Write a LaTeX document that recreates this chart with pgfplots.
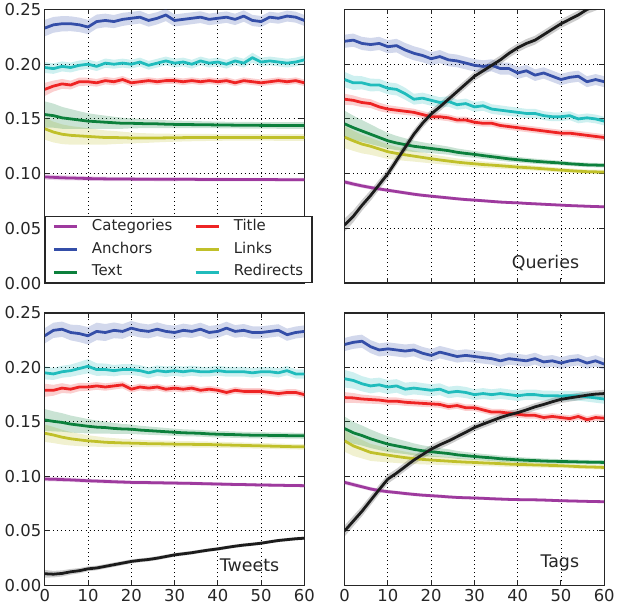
\documentclass[border=0pt]{standalone}
\usepackage{fontspec}
\setmainfont{DejaVu Sans}
\usepackage{pgfplots}
\usepackage{pgfplotstable}
\pgfplotsset{compat=1.18}
\usepgfplotslibrary{fillbetween}

\definecolor{catc}{RGB}{158,58,158}
\definecolor{ancc}{RGB}{52,78,168}
\definecolor{txtc}{RGB}{12,128,60}
\definecolor{titc}{RGB}{238,36,36}
\definecolor{lnkc}{RGB}{192,192,42}
\definecolor{redc}{RGB}{32,188,188}
\definecolor{blkc}{RGB}{28,28,28}

\newcommand\tickfont{\fontsize{16.5}{18}\selectfont}
\newcommand\legfont{\fontsize{15}{17}\selectfont}
\newcommand\annfont{\fontsize{17.5}{19}\selectfont}

% x = minutes, then mean and spread of every feature
\pgfplotstableread{
x  cat    catE   anc   ancE   txt    txtE   tit   titE   lnk    lnkE   red   redE
0  0.0970 0.0025 0.233 0.0075 0.1540 0.0120 0.177 0.0060 0.1410 0.0100 0.197 0.0050
2  0.0966 0.0024 0.236 0.0072 0.1530 0.0110 0.180 0.0050 0.1380 0.0095 0.196 0.0048
4  0.0962 0.0023 0.237 0.0070 0.1510 0.0100 0.182 0.0045 0.1360 0.0090 0.198 0.0046
6  0.0960 0.0022 0.237 0.0068 0.1500 0.0090 0.181 0.0040 0.1350 0.0085 0.197 0.0045
8  0.0958 0.0021 0.236 0.0066 0.1490 0.0080 0.184 0.0038 0.1345 0.0080 0.199 0.0044
10 0.0955 0.0020 0.234 0.0065 0.1480 0.0072 0.184 0.0036 0.1340 0.0075 0.200 0.0043
12 0.0953 0.0020 0.239 0.0064 0.1475 0.0065 0.183 0.0035 0.1335 0.0070 0.198 0.0042
14 0.0952 0.0020 0.240 0.0062 0.1470 0.0060 0.185 0.0034 0.1330 0.0065 0.201 0.0042
16 0.0951 0.0019 0.239 0.0060 0.1465 0.0055 0.184 0.0033 0.1330 0.0060 0.200 0.0041
18 0.0950 0.0019 0.241 0.0060 0.1460 0.0050 0.186 0.0032 0.1328 0.0055 0.201 0.0041
20 0.0950 0.0019 0.242 0.0058 0.1460 0.0046 0.183 0.0032 0.1326 0.0050 0.200 0.0040
22 0.0949 0.0018 0.243 0.0058 0.1458 0.0043 0.184 0.0031 0.1325 0.0046 0.202 0.0040
24 0.0949 0.0018 0.240 0.0057 0.1455 0.0040 0.185 0.0031 0.1325 0.0043 0.199 0.0040
26 0.0948 0.0018 0.242 0.0056 0.1455 0.0038 0.184 0.0030 0.1326 0.0040 0.201 0.0040
28 0.0948 0.0018 0.245 0.0056 0.1452 0.0036 0.185 0.0030 0.1327 0.0038 0.203 0.0040
30 0.0948 0.0018 0.240 0.0055 0.1450 0.0035 0.185 0.0030 0.1328 0.0036 0.201 0.0040
32 0.0948 0.0017 0.241 0.0055 0.1449 0.0034 0.184 0.0030 0.1329 0.0035 0.202 0.0040
34 0.0948 0.0017 0.242 0.0054 0.1448 0.0033 0.185 0.0030 0.1330 0.0034 0.200 0.0040
36 0.0947 0.0017 0.243 0.0054 0.1447 0.0032 0.184 0.0030 0.1330 0.0033 0.203 0.0040
38 0.0947 0.0017 0.241 0.0053 0.1446 0.0031 0.185 0.0030 0.1331 0.0032 0.201 0.0040
40 0.0947 0.0017 0.242 0.0053 0.1445 0.0030 0.184 0.0030 0.1331 0.0031 0.202 0.0040
42 0.0947 0.0017 0.243 0.0052 0.1444 0.0030 0.185 0.0030 0.1331 0.0030 0.200 0.0040
44 0.0946 0.0016 0.241 0.0052 0.1443 0.0030 0.183 0.0030 0.1331 0.0030 0.203 0.0040
46 0.0946 0.0016 0.244 0.0052 0.1442 0.0030 0.185 0.0030 0.1331 0.0030 0.201 0.0040
48 0.0946 0.0016 0.240 0.0051 0.1442 0.0030 0.184 0.0030 0.1331 0.0030 0.206 0.0045
50 0.0946 0.0016 0.239 0.0051 0.1441 0.0030 0.183 0.0030 0.1331 0.0030 0.202 0.0040
52 0.0946 0.0016 0.243 0.0050 0.1441 0.0030 0.184 0.0030 0.1331 0.0030 0.203 0.0040
54 0.0945 0.0016 0.242 0.0050 0.1440 0.0030 0.185 0.0030 0.1330 0.0030 0.202 0.0040
56 0.0945 0.0016 0.244 0.0050 0.1440 0.0030 0.184 0.0030 0.1330 0.0030 0.201 0.0040
58 0.0945 0.0016 0.243 0.0050 0.1440 0.0030 0.185 0.0030 0.1330 0.0030 0.202 0.0040
60 0.0945 0.0016 0.240 0.0050 0.1440 0.0030 0.183 0.0030 0.1330 0.0030 0.204 0.0040
}\base

\pgfplotstableread{
x  cat    catE   anc   ancE   txt    txtE   tit   titE   lnk    lnkE   red   redE   blk    blkE
0  0.0924 0.0020 0.221 0.0060 0.1455 0.0120 0.168 0.0050 0.1333 0.0100 0.186 0.0070 0.053  0.0060
2  0.0905 0.0019 0.222 0.0060 0.1420 0.0110 0.167 0.0045 0.1300 0.0092 0.183 0.0065 0.061  0.0055
4  0.0888 0.0018 0.219 0.0060 0.1390 0.0100 0.165 0.0042 0.1270 0.0085 0.183 0.0060 0.071  0.0050
6  0.0873 0.0018 0.218 0.0060 0.1360 0.0090 0.164 0.0040 0.1250 0.0078 0.181 0.0058 0.080  0.0048
8  0.0860 0.0017 0.219 0.0060 0.1330 0.0080 0.161 0.0038 0.1225 0.0072 0.181 0.0056 0.090  0.0046
10 0.0848 0.0017 0.216 0.0060 0.1300 0.0072 0.159 0.0036 0.1200 0.0066 0.178 0.0055 0.100  0.0045
12 0.0836 0.0016 0.217 0.0062 0.1280 0.0065 0.158 0.0035 0.1185 0.0060 0.177 0.0055 0.112  0.0044
14 0.0824 0.0016 0.213 0.0064 0.1265 0.0058 0.157 0.0034 0.1172 0.0055 0.173 0.0055 0.124  0.0043
16 0.0812 0.0016 0.210 0.0064 0.1250 0.0052 0.156 0.0033 0.1160 0.0050 0.168 0.0050 0.136  0.0042
18 0.0802 0.0015 0.208 0.0062 0.1240 0.0047 0.154 0.0032 0.1148 0.0046 0.169 0.0050 0.146  0.0041
20 0.0794 0.0015 0.205 0.0060 0.1230 0.0043 0.152 0.0032 0.1136 0.0042 0.167 0.0050 0.1545 0.0040
22 0.0786 0.0015 0.207 0.0060 0.1220 0.0040 0.152 0.0031 0.1125 0.0039 0.165 0.0048 0.161  0.0040
24 0.0778 0.0015 0.204 0.0058 0.1210 0.0037 0.151 0.0031 0.1115 0.0036 0.166 0.0048 0.168  0.0040
26 0.0770 0.0014 0.203 0.0058 0.1195 0.0035 0.149 0.0030 0.1105 0.0034 0.163 0.0046 0.175  0.0040
28 0.0763 0.0014 0.201 0.0057 0.1185 0.0033 0.149 0.0030 0.1097 0.0032 0.164 0.0046 0.182  0.0040
30 0.0758 0.0014 0.199 0.0056 0.1176 0.0031 0.147 0.0030 0.1090 0.0030 0.161 0.0045 0.189  0.0040
32 0.0752 0.0014 0.198 0.0056 0.1165 0.0030 0.146 0.0030 0.1083 0.0029 0.162 0.0045 0.194  0.0040
34 0.0746 0.0014 0.199 0.0055 0.1155 0.0029 0.146 0.0030 0.1078 0.0028 0.159 0.0044 0.199  0.0040
36 0.0740 0.0013 0.196 0.0055 0.1145 0.0028 0.144 0.0030 0.1072 0.0027 0.158 0.0044 0.204  0.0040
38 0.0736 0.0013 0.196 0.0054 0.1135 0.0027 0.143 0.0030 0.1066 0.0026 0.157 0.0043 0.210  0.0040
40 0.0733 0.0013 0.192 0.0054 0.1127 0.0026 0.142 0.0030 0.1060 0.0025 0.156 0.0043 0.215  0.0040
42 0.0728 0.0013 0.194 0.0053 0.1120 0.0025 0.141 0.0030 0.1055 0.0024 0.155 0.0042 0.219  0.0040
44 0.0724 0.0013 0.190 0.0053 0.1113 0.0024 0.140 0.0030 0.1050 0.0023 0.155 0.0042 0.222  0.0040
46 0.0720 0.0013 0.192 0.0052 0.1107 0.0023 0.139 0.0030 0.1044 0.0022 0.153 0.0041 0.227  0.0040
48 0.0716 0.0012 0.189 0.0052 0.1102 0.0022 0.138 0.0030 0.1038 0.0022 0.152 0.0041 0.232  0.0040
50 0.0712 0.0012 0.186 0.0052 0.1097 0.0021 0.137 0.0030 0.1032 0.0021 0.152 0.0040 0.237  0.0040
52 0.0708 0.0012 0.188 0.0051 0.1090 0.0020 0.137 0.0030 0.1027 0.0020 0.153 0.0040 0.241  0.0040
54 0.0705 0.0012 0.189 0.0051 0.1085 0.0020 0.136 0.0030 0.1022 0.0020 0.150 0.0040 0.245  0.0040
56 0.0702 0.0012 0.184 0.0050 0.1080 0.0020 0.135 0.0030 0.1018 0.0020 0.151 0.0040 0.250  0.0040
58 0.0699 0.0012 0.186 0.0050 0.1078 0.0020 0.134 0.0030 0.1016 0.0020 0.150 0.0040 0.253  0.0040
60 0.0697 0.0012 0.184 0.0050 0.1076 0.0020 0.133 0.0030 0.1015 0.0020 0.148 0.0040 0.257  0.0040
}\queries

\pgfplotstableread{
x  cat    catE   anc   ancE   txt    txtE   tit   titE   lnk    lnkE   red   redE   blk    blkE
0  0.0976 0.0020 0.229 0.0070 0.1518 0.0100 0.179 0.0060 0.1396 0.0080 0.195 0.0060 0.0107 0.0035
2  0.0974 0.0020 0.234 0.0070 0.1505 0.0092 0.179 0.0050 0.1380 0.0074 0.194 0.0055 0.0103 0.0030
4  0.0971 0.0020 0.235 0.0070 0.1495 0.0085 0.181 0.0045 0.1360 0.0068 0.196 0.0055 0.0110 0.0028
6  0.0968 0.0019 0.232 0.0072 0.1480 0.0078 0.180 0.0040 0.1345 0.0062 0.197 0.0056 0.0125 0.0026
8  0.0964 0.0019 0.231 0.0078 0.1470 0.0072 0.182 0.0038 0.1335 0.0057 0.199 0.0060 0.0135 0.0024
10 0.0960 0.0019 0.229 0.0080 0.1460 0.0066 0.182 0.0036 0.1326 0.0052 0.201 0.0065 0.0152 0.0022
12 0.0957 0.0018 0.233 0.0080 0.1452 0.0060 0.183 0.0035 0.1320 0.0048 0.198 0.0058 0.0160 0.0021
14 0.0954 0.0018 0.232 0.0078 0.1448 0.0055 0.182 0.0034 0.1313 0.0044 0.198 0.0055 0.0175 0.0020
16 0.0951 0.0018 0.234 0.0072 0.1440 0.0050 0.183 0.0033 0.1310 0.0041 0.197 0.0052 0.0190 0.0020
18 0.0948 0.0018 0.233 0.0068 0.1435 0.0046 0.184 0.0032 0.1307 0.0038 0.198 0.0050 0.0205 0.0019
20 0.0945 0.0017 0.236 0.0066 0.1433 0.0043 0.180 0.0032 0.1305 0.0036 0.198 0.0050 0.0220 0.0019
22 0.0944 0.0017 0.234 0.0065 0.1425 0.0040 0.182 0.0031 0.1303 0.0034 0.197 0.0050 0.0230 0.0018
24 0.0943 0.0017 0.233 0.0064 0.1420 0.0038 0.181 0.0031 0.1300 0.0032 0.195 0.0050 0.0238 0.0018
26 0.0942 0.0017 0.235 0.0063 0.1415 0.0036 0.182 0.0030 0.1299 0.0031 0.197 0.0048 0.0250 0.0018
28 0.0940 0.0017 0.233 0.0062 0.1410 0.0034 0.180 0.0030 0.1298 0.0030 0.196 0.0048 0.0265 0.0017
30 0.0939 0.0016 0.232 0.0062 0.1405 0.0033 0.181 0.0030 0.1296 0.0030 0.197 0.0047 0.0280 0.0017
32 0.0937 0.0016 0.234 0.0061 0.1400 0.0032 0.180 0.0030 0.1295 0.0029 0.196 0.0047 0.0290 0.0017
34 0.0936 0.0016 0.233 0.0060 0.1398 0.0031 0.181 0.0030 0.1294 0.0029 0.197 0.0046 0.0300 0.0016
36 0.0934 0.0016 0.235 0.0060 0.1395 0.0030 0.179 0.0030 0.1293 0.0028 0.196 0.0046 0.0313 0.0016
38 0.0932 0.0016 0.232 0.0060 0.1390 0.0030 0.180 0.0030 0.1292 0.0028 0.196 0.0045 0.0325 0.0016
40 0.0930 0.0016 0.233 0.0059 0.1387 0.0030 0.179 0.0030 0.1290 0.0028 0.197 0.0045 0.0335 0.0016
42 0.0928 0.0016 0.236 0.0059 0.1385 0.0030 0.177 0.0030 0.1288 0.0027 0.196 0.0045 0.0348 0.0015
44 0.0926 0.0015 0.233 0.0058 0.1383 0.0029 0.179 0.0030 0.1286 0.0027 0.196 0.0044 0.0360 0.0015
46 0.0925 0.0015 0.234 0.0058 0.1380 0.0029 0.178 0.0030 0.1284 0.0027 0.196 0.0044 0.0370 0.0015
48 0.0923 0.0015 0.232 0.0057 0.1378 0.0029 0.178 0.0030 0.1282 0.0026 0.195 0.0044 0.0378 0.0015
50 0.0921 0.0015 0.232 0.0057 0.1378 0.0028 0.178 0.0030 0.1280 0.0026 0.196 0.0043 0.0387 0.0015
52 0.0920 0.0015 0.233 0.0056 0.1376 0.0028 0.177 0.0030 0.1278 0.0026 0.196 0.0043 0.0400 0.0015
54 0.0919 0.0015 0.234 0.0056 0.1375 0.0028 0.176 0.0030 0.1276 0.0025 0.195 0.0043 0.0412 0.0015
56 0.0917 0.0015 0.230 0.0056 0.1374 0.0028 0.177 0.0030 0.1274 0.0025 0.197 0.0043 0.0420 0.0015
58 0.0916 0.0015 0.232 0.0055 0.1373 0.0027 0.177 0.0030 0.1272 0.0025 0.194 0.0042 0.0428 0.0015
60 0.0915 0.0015 0.233 0.0055 0.1372 0.0027 0.175 0.0030 0.1271 0.0025 0.194 0.0042 0.0433 0.0015
}\tweets

\pgfplotstableread{
x  cat    catE   anc   ancE   txt    txtE   tit    titE   lnk    lnkE   red    redE   blk    blkE
0  0.0945 0.0020 0.221 0.0060 0.1439 0.0110 0.1723 0.0050 0.1326 0.0100 0.1896 0.0080 0.050  0.0050
2  0.0925 0.0019 0.223 0.0060 0.1400 0.0100 0.1720 0.0045 0.1280 0.0092 0.188  0.0075 0.059  0.0048
4  0.0905 0.0018 0.224 0.0060 0.1375 0.0092 0.1710 0.0040 0.1250 0.0085 0.185  0.0070 0.068  0.0046
6  0.0885 0.0018 0.219 0.0060 0.1345 0.0085 0.1705 0.0038 0.1220 0.0078 0.183  0.0068 0.078  0.0045
8  0.0870 0.0017 0.216 0.0060 0.1320 0.0078 0.1700 0.0036 0.1207 0.0072 0.184  0.0066 0.088  0.0044
10 0.0860 0.0017 0.217 0.0060 0.1296 0.0072 0.1690 0.0035 0.1195 0.0066 0.182  0.0064 0.0976 0.0042
12 0.0852 0.0016 0.216 0.0060 0.1280 0.0066 0.1690 0.0034 0.1183 0.0060 0.183  0.0062 0.103  0.0040
14 0.0843 0.0016 0.215 0.0060 0.1265 0.0060 0.1680 0.0033 0.1172 0.0055 0.180  0.0060 0.109  0.0040
16 0.0835 0.0016 0.216 0.0058 0.1248 0.0055 0.1675 0.0032 0.1163 0.0050 0.181  0.0058 0.115  0.0039
18 0.0828 0.0015 0.213 0.0058 0.1235 0.0050 0.1670 0.0032 0.1156 0.0046 0.180  0.0056 0.120  0.0038
20 0.0823 0.0015 0.211 0.0058 0.1226 0.0046 0.1665 0.0031 0.1150 0.0042 0.179  0.0055 0.125  0.0038
22 0.0818 0.0015 0.214 0.0057 0.1218 0.0042 0.1660 0.0031 0.1145 0.0039 0.180  0.0054 0.129  0.0037
24 0.0812 0.0015 0.212 0.0057 0.1210 0.0039 0.1640 0.0030 0.1140 0.0036 0.177  0.0053 0.1325 0.0037
26 0.0807 0.0014 0.210 0.0056 0.1198 0.0036 0.1650 0.0030 0.1135 0.0034 0.178  0.0052 0.1365 0.0036
28 0.0804 0.0014 0.211 0.0056 0.1190 0.0034 0.1630 0.0030 0.1131 0.0032 0.177  0.0051 0.1405 0.0036
30 0.0802 0.0014 0.210 0.0056 0.1183 0.0032 0.1630 0.0030 0.1128 0.0030 0.175  0.0050 0.1448 0.0035
32 0.0799 0.0014 0.209 0.0055 0.1176 0.0030 0.1610 0.0030 0.1124 0.0029 0.176  0.0050 0.1480 0.0035
34 0.0795 0.0014 0.208 0.0055 0.1170 0.0029 0.1590 0.0030 0.1121 0.0028 0.175  0.0049 0.1510 0.0035
36 0.0792 0.0014 0.206 0.0055 0.1162 0.0028 0.1590 0.0030 0.1117 0.0027 0.176  0.0049 0.1540 0.0034
38 0.0789 0.0013 0.208 0.0055 0.1157 0.0027 0.1580 0.0030 0.1113 0.0026 0.175  0.0048 0.1565 0.0034
40 0.0787 0.0013 0.207 0.0054 0.1152 0.0026 0.1570 0.0030 0.1110 0.0025 0.174  0.0048 0.1585 0.0034
42 0.0786 0.0013 0.206 0.0054 0.1148 0.0025 0.1560 0.0030 0.1108 0.0024 0.175  0.0047 0.1610 0.0034
44 0.0785 0.0013 0.208 0.0054 0.1145 0.0024 0.1560 0.0030 0.1105 0.0023 0.175  0.0047 0.1638 0.0034
46 0.0783 0.0013 0.205 0.0054 0.1141 0.0023 0.1540 0.0030 0.1103 0.0022 0.174  0.0046 0.1660 0.0034
48 0.0780 0.0013 0.206 0.0053 0.1139 0.0022 0.1550 0.0030 0.1100 0.0022 0.174  0.0046 0.1685 0.0034
50 0.0777 0.0013 0.204 0.0053 0.1137 0.0021 0.1540 0.0030 0.1098 0.0021 0.1738 0.0045 0.1707 0.0034
52 0.0775 0.0013 0.206 0.0053 0.1135 0.0020 0.1530 0.0030 0.1094 0.0020 0.174  0.0045 0.1720 0.0034
54 0.0773 0.0012 0.207 0.0052 0.1133 0.0020 0.1550 0.0030 0.1090 0.0020 0.174  0.0045 0.1732 0.0034
56 0.0771 0.0012 0.204 0.0052 0.1131 0.0020 0.1520 0.0030 0.1087 0.0020 0.173  0.0044 0.1745 0.0034
58 0.0769 0.0012 0.206 0.0052 0.1130 0.0020 0.1540 0.0030 0.1085 0.0020 0.172  0.0044 0.1755 0.0034
60 0.0768 0.0012 0.203 0.0052 0.1128 0.0020 0.1534 0.0030 0.1082 0.0020 0.171  0.0044 0.1760 0.0034
}\tags

% mean line with a shaded spread band: table, column, spread column, colour
\newcommand{\series}[4]{%
  \addplot[draw=none, name path=#2up, forget plot] table[x=x, y expr=\thisrow{#2}+\thisrow{#3}] {#1};
  \addplot[draw=none, name path=#2lo, forget plot] table[x=x, y expr=\thisrow{#2}-\thisrow{#3}] {#1};
  \addplot[fill=#4, fill opacity=0.22, draw=none, forget plot] fill between[of=#2up and #2lo];
  \addplot[#4, line width=2.8pt, line join=round, forget plot] table[x=x, y=#2] {#1};
}
\newcommand{\features}[1]{%
  \series{#1}{cat}{catE}{catc}
  \series{#1}{lnk}{lnkE}{lnkc}
  \series{#1}{txt}{txtE}{txtc}
  \series{#1}{tit}{titE}{titc}
  \series{#1}{red}{redE}{redc}
  \series{#1}{anc}{ancE}{ancc}
}

\pgfplotsset{
  panel/.style={
    scale only axis, width=261pt,
    xmin=0, xmax=60, ymin=0, ymax=0.25,
    xtick={0,10,20,30,40,50,60},
    ytick={0,0.05,0.1,0.15,0.2,0.25},
    tick align=inside, tick pos=both,
    major tick length=5pt,
    tick style={black!85, line width=1pt},
    axis line style={black!85, line width=1.3pt},
    grid=major,
    major grid style={black, line width=0.9pt, dash pattern=on 0.9pt off 3.2pt},
    tick label style={font=\tickfont, text=black!85},
    /pgf/number format/assume math mode=true,
    yticklabel style={/pgf/number format/fixed, /pgf/number format/fixed zerofill,
      /pgf/number format/precision=2},
    legend image code/.code={\draw[#1, line width=2.8pt] (0pt,0pt) -- (23pt,0pt);},
  },
}

\begin{document}
\begin{tikzpicture}

% top left, with legend
\begin{axis}[panel, at={(45pt,326pt)}, anchor=south west, height=275pt,
  xticklabels={},
  legend columns=2,
  legend cell align=left,
  legend style={at={(0,0)}, anchor=south west, font=\legfont,
    draw=black!85, line width=1.3pt, fill=white,
    inner xsep=7pt, inner ysep=1pt, row sep=4.5pt,
    nodes={inner sep=2pt, text height=11pt, text depth=3.5pt, text=black!85},
    /tikz/every odd column/.append style={column sep=12pt},
    /tikz/every even column/.append style={column sep=20pt}},
]
\features{\base}
\addlegendimage{catc}\addlegendentry{Categories}
\addlegendimage{titc}\addlegendentry{Title}
\addlegendimage{ancc}\addlegendentry{Anchors}
\addlegendimage{lnkc}\addlegendentry{Links}
\addlegendimage{txtc}\addlegendentry{Text}
\addlegendimage{redc}\addlegendentry{Redirects}
\end{axis}

% top right: queries
\begin{axis}[panel, at={(346.5pt,326pt)}, anchor=south west, height=275pt,
  xticklabels={}, yticklabels={}]
\features{\queries}
\series{\queries}{blk}{blkE}{blkc}
\node[anchor=base east, font=\annfont, text=black!85] at (axis cs:55,0.013) {Queries};
\end{axis}

% bottom left: tweets
\begin{axis}[panel, at={(45pt,22pt)}, anchor=south west, height=274pt]
\features{\tweets}
\series{\tweets}{blk}{blkE}{blkc}
\node[anchor=base east, font=\annfont, text=black!85] at (axis cs:55,0.0128) {Tweets};
\end{axis}

% bottom right: tags
\begin{axis}[panel, at={(346.5pt,22pt)}, anchor=south west, height=274pt,
  yticklabels={}]
\features{\tags}
\series{\tags}{blk}{blkE}{blkc}
\node[anchor=base east, font=\annfont, text=black!85] at (axis cs:55,0.0164) {Tags};
\end{axis}

\useasboundingbox (0,0) rectangle (618pt,609pt);
\end{tikzpicture}
\end{document}
